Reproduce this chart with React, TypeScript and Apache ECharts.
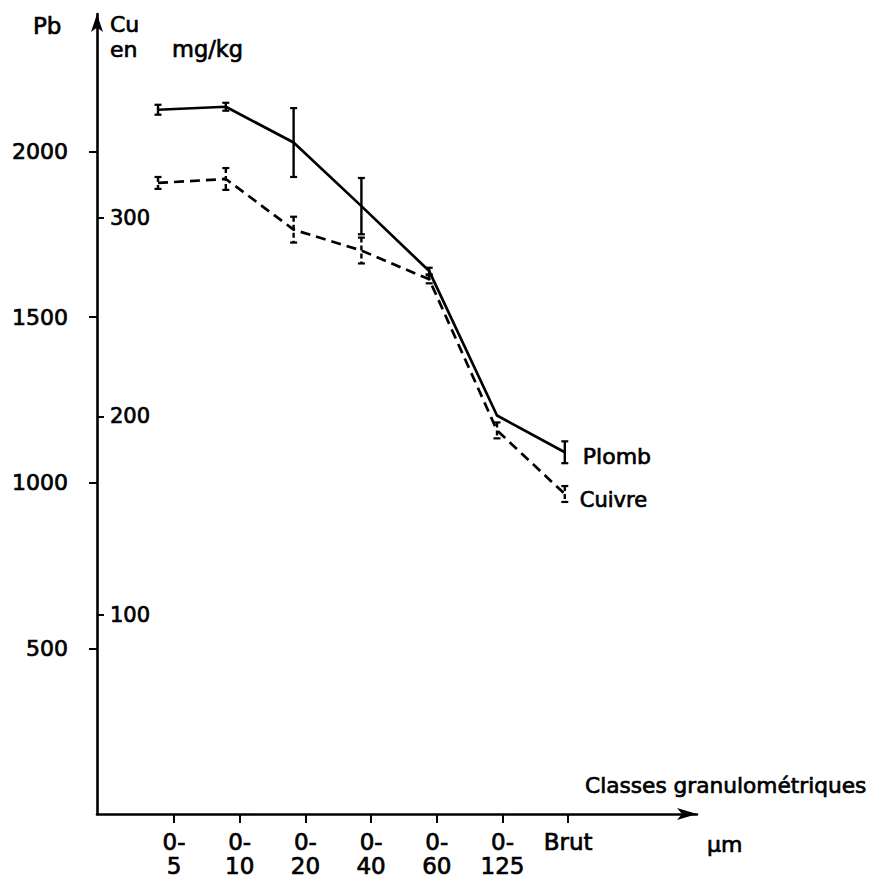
import React, { useEffect, useRef } from 'react';
import * as echarts from 'echarts';

const categories = ['0-\n5', '0-\n10', '0-\n20', '0-\n40', '0-\n60', '0-\n125', 'Brut'];
const pbValues = [2126, 2135, 2027, 1835, 1639, 1203, 1092];
const pbErrors = [15, 12, 104, 85, 10, 0, 33];
const cuValues = [317.5, 319.5, 294, 283.5, 269, 193, 161];
const cuErrors = [3, 5.5, 6.5, 6.5, 2, 4, 4];
const pbTicks = [500, 1000, 1500, 2000];
const cuTicks = [100, 200, 300];
const catIndex = categories.map((_, i) => i);

const FONT = '"DejaVu Sans", sans-serif';
const BOLDEN = { textBorderColor: '#000', textBorderWidth: 0.7 };

function errorBarItem(dash: number[] | null) {
  return (params: any, api: any) => {
    const x = api.value(0);
    const lo = api.value(1);
    const hi = api.value(2);
    if (hi === lo) return { type: 'group', children: [] };
    const top = api.coord([x, hi]);
    const bot = api.coord([x, lo]);
    const c = 3.5;
    const capStyle = { stroke: '#000', lineWidth: 2.2 };
    return {
      type: 'group',
      children: [
        {
          type: 'line',
          shape: { x1: top[0], y1: top[1], x2: bot[0], y2: bot[1] },
          style: { stroke: '#000', lineWidth: 2.4, lineDash: dash || undefined },
        },
        { type: 'line', shape: { x1: top[0] - c, y1: top[1], x2: top[0] + c, y2: top[1] }, style: capStyle },
        { type: 'line', shape: { x1: bot[0] - c, y1: bot[1], x2: bot[0] + c, y2: bot[1] }, style: capStyle },
      ],
    };
  };
}

export default function App() {
  const ref = useRef<HTMLDivElement>(null);
  useEffect(() => {
    if (!ref.current) return;
    const chart = echarts.init(ref.current, null, { renderer: 'svg' });
    const txt = (text: string, x: number, y: number, size = 21, align = 'left') => ({
      type: 'text',
      x,
      y,
      style: {
        text,
        fontSize: size,
        fontFamily: FONT,
        fill: '#000',
        stroke: '#000',
        lineWidth: 0.7,
        align,
        verticalAlign: 'middle',
      },
    });
    chart.setOption({
      animation: false,
      backgroundColor: '#fff',
      grid: { left: 97, right: 172, top: 14, bottom: 61, containLabel: false },
      xAxis: [
        {
          type: 'value',
          min: -1.172,
          max: 7.96,
          axisLine: {
            show: true,
            onZero: false,
            symbol: ['none', 'arrow'],
            symbolSize: [9, 20],
            lineStyle: { color: '#000', width: 2.6 },
          },
          axisTick: { show: true, customValues: catIndex, length: 9, lineStyle: { color: '#000', width: 2 } },
          axisLabel: {
            show: true,
            customValues: catIndex,
            formatter: (v: number) => categories[Math.round(v)] ?? '',
            margin: 16,
            fontSize: 23,
            fontFamily: FONT,
            color: '#000',
            lineHeight: 24,
            verticalAlign: 'top',
            ...BOLDEN,
          },
          splitLine: { show: false },
        },
        {
          type: 'value',
          min: -0.9,
          max: 7.95,
          show: false,
          splitLine: { show: false },
        },
      ],
      yAxis: [
        {
          type: 'value',
          position: 'left',
          min: 0,
          max: 2415,
          axisLine: {
            show: true,
            onZero: false,
            symbol: ['none', 'arrow'],
            symbolSize: [9, 18],
            lineStyle: { color: '#000', width: 2.6 },
          },
          axisTick: { show: true, customValues: pbTicks, length: 8, lineStyle: { color: '#000', width: 2 } },
          axisLabel: {
            show: true,
            customValues: pbTicks,
            formatter: (v: number) => String(v),
            margin: 29,
            fontSize: 22,
            fontFamily: FONT,
            color: '#000',
            ...BOLDEN,
          },
          splitLine: { show: false },
        },
        {
          type: 'value',
          position: 'left',
          offset: 0,
          min: 0,
          max: 402.5,
          axisLine: { show: false, onZero: false },
          axisTick: { show: true, inside: true, customValues: cuTicks, length: 7, lineStyle: { color: '#000', width: 2 } },
          axisLabel: {
            show: true,
            inside: true,
            customValues: cuTicks,
            formatter: (v: number) => String(v),
            margin: 13,
            fontSize: 21,
            fontFamily: FONT,
            color: '#000',
            ...BOLDEN,
          },
          splitLine: { show: false },
        },
      ],
      series: [
        {
          name: 'Plomb',
          type: 'line',
          xAxisIndex: 1,
          yAxisIndex: 0,
          data: pbValues.map((v, i) => [i, v]),
          showSymbol: false,
          lineStyle: { color: '#000', width: 2.7 },
          endLabel: {
            show: true,
            formatter: 'Plomb',
            distance: 18,
            offset: [0, 4],
            fontSize: 22,
            fontFamily: FONT,
            color: '#000',
            ...BOLDEN,
          },
        },
        {
          name: 'Cuivre',
          type: 'line',
          xAxisIndex: 1,
          yAxisIndex: 1,
          data: cuValues.map((v, i) => [i, v]),
          showSymbol: false,
          lineStyle: { color: '#000', width: 2.7, type: [10, 6] },
          endLabel: {
            show: true,
            formatter: 'Cuivre',
            distance: 15,
            offset: [0, 6],
            fontSize: 21,
            fontFamily: FONT,
            color: '#000',
            ...BOLDEN,
          },
        },
        {
          name: 'Plomb err',
          type: 'custom',
          xAxisIndex: 1,
          yAxisIndex: 0,
          renderItem: errorBarItem(null),
          encode: { x: 0, y: [1, 2] },
          data: pbValues.map((v, i) => [i, v - pbErrors[i], v + pbErrors[i]]),
          z: 3,
        },
        {
          name: 'Cuivre err',
          type: 'custom',
          xAxisIndex: 1,
          yAxisIndex: 1,
          renderItem: errorBarItem([5, 3]),
          encode: { x: 0, y: [1, 2] },
          data: cuValues.map((v, i) => [i, v - cuErrors[i], v + cuErrors[i]]),
          z: 3,
        },
      ],
      graphic: [
        txt('Pb', 33, 26, 23),
        txt('Cu', 110, 24, 22),
        txt('en', 110, 49, 22),
        txt('mg/kg', 172, 49, 22.5),
        txt('Classes granulométriques', 585, 785, 21.7),
        txt('µm', 707, 844, 22),
      ],
    });
    return () => chart.dispose();
  }, []);
  return <div ref={ref} style={{ width: 869, height: 878, position: 'absolute', left: 0, top: 0 }} />;
}
